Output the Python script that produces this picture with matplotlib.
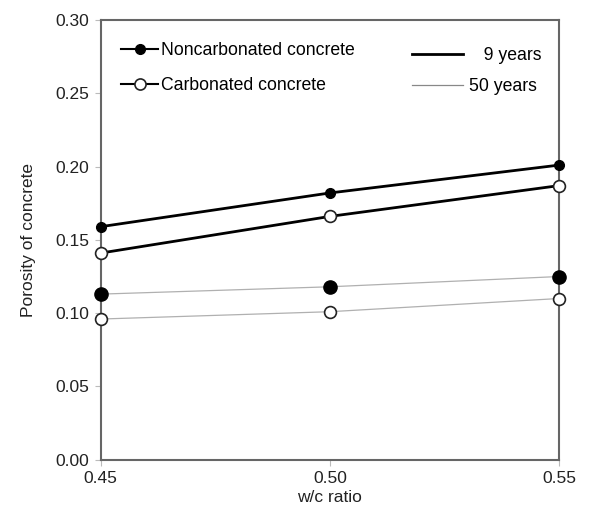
import matplotlib.pyplot as plt
from matplotlib.lines import Line2D

plt.rcParams['font.family'] = ['Liberation Sans', 'DejaVu Sans']

wc_ratio = [0.45, 0.50, 0.55]
noncarb_9 = [0.159, 0.182, 0.201]
carb_9 = [0.141, 0.166, 0.187]
noncarb_50 = [0.113, 0.118, 0.125]
carb_50 = [0.096, 0.101, 0.110]

x_ticks = [0.45, 0.50, 0.55]
y_ticks = [0.00, 0.05, 0.10, 0.15, 0.20, 0.25, 0.30]

fig = plt.figure(figsize=(5.89, 5.12), dpi=100)
ax = fig.add_axes([0.171, 0.102, 0.778, 0.859])

# 50 years: thin grey lines
ax.plot(wc_ratio, noncarb_50, color='#b0b0b0', lw=0.9, marker='o', ms=9.5,
        mfc='black', mec='black', zorder=3, clip_on=False)
ax.plot(wc_ratio, carb_50, color='#b0b0b0', lw=0.9, marker='o', ms=8.5,
        mfc='white', mec='#222222', mew=1.2, zorder=3, clip_on=False)
# 9 years: thick black lines
ax.plot(wc_ratio, noncarb_9, color='black', lw=2, marker='o', ms=7,
        mfc='black', mec='black', zorder=4, clip_on=False)
ax.plot(wc_ratio, carb_9, color='black', lw=2, marker='o', ms=8.5,
        mfc='white', mec='#222222', mew=1.2, zorder=4, clip_on=False)

ax.set_xlim(0.45, 0.55)
ax.set_ylim(0, 0.30)
ax.set_xticks(x_ticks)
ax.set_xticklabels([f'{v:.2f}' for v in x_ticks])
ax.set_yticks(y_ticks)
ax.set_yticklabels([f'{v:.2f}' for v in y_ticks])
ax.tick_params(direction='out', length=4, width=0.8, color='#bbbbbb',
               labelsize=12.5, labelcolor='#222222', pad=4)
for s in ax.spines.values():
    s.set_color('#666666')
    s.set_linewidth(1.5)

ax.set_xlabel('w/c ratio', fontsize=12.5, color='#222222', labelpad=3)
ax.set_ylabel('Porosity of concrete', fontsize=12.5, color='#222222', labelpad=14)

h_marker = [
    Line2D([], [], color='black', lw=1.5, marker='o', ms=7, mfc='black', mec='black'),
    Line2D([], [], color='black', lw=1.5, marker='o', ms=8, mfc='white', mec='#222222', mew=1.2),
]
leg1 = ax.legend(h_marker, ['Noncarbonated concrete', 'Carbonated concrete'],
                 loc='upper left', bbox_to_anchor=(0.01, 0.985), frameon=False,
                 fontsize=12.7, handlelength=2.1, handletextpad=0.15,
                 labelspacing=1.0)
ax.add_artist(leg1)

h_line = [
    Line2D([], [], color='black', lw=2),
    Line2D([], [], color='#888888', lw=0.9),
]
ax.legend(h_line, ['   9 years', '50 years'], loc='upper left',
          bbox_to_anchor=(0.645, 0.975), frameon=False, fontsize=12.7,
          handlelength=2.9, handletextpad=0.3, labelspacing=0.8)

fig.savefig('out.png', dpi=100)
